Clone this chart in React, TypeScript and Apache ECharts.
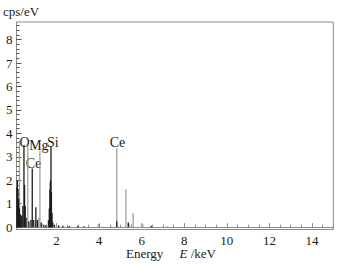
import React, { useEffect, useRef } from "react";
import * as echarts from "echarts";

// Spectrum lines drawn in dark grey (energy keV, counts cps/eV)
const darkEnergies = [0.13, 0.16, 0.19, 0.22, 0.26, 0.3, 0.34, 0.38, 0.42, 0.47, 0.5, 0.53, 0.57, 0.7, 0.8, 0.86, 0.93, 1.03, 1.1, 1.28, 1.4, 1.5, 1.62, 1.66, 1.69, 1.71, 1.72, 1.74, 1.76, 1.79, 1.83, 1.9, 2.1, 2.3, 2.6, 3.0, 3.3, 4.83, 5.37, 6.45];
const darkValues = [1.7, 2.0, 1.6, 1.2, 0.8, 0.55, 0.45, 0.5, 0.9, 3.5, 1.8, 0.9, 0.4, 0.25, 0.3, 2.5, 0.3, 0.85, 0.3, 0.2, 0.1, 0.08, 0.3, 0.8, 1.6, 1.9, 2.0, 3.45, 1.5, 0.6, 0.2, 0.1, 0.08, 0.06, 0.05, 0.05, 0.04, 0.25, 0.2, 0.06];

// Spectrum lines drawn in light grey
const greyEnergies = [0.26, 0.65, 1.16, 1.22, 1.32, 3.96, 4.55, 4.83, 5.26, 5.4, 5.6, 6.0, 6.06, 7.2];
const greyValues = [3.7, 3.45, 0.4, 3.25, 0.15, 0.13, 0.05, 3.37, 1.62, 0.15, 0.6, 0.18, 0.12, 0.04];

// Element annotations
const peakLabelNames = ["O", "Mg", "Si", "Ce", "Ce"];
const peakLabelEnergies = [0.5, 1.17, 1.83, 0.92, 4.86];
const peakLabelValues = [3.61, 3.5, 3.63, 2.7, 3.61];

// Axis tick labels
const xTickLabels = [2, 4, 6, 8, 10, 12, 14];
const yTickLabels = [0, 1, 2, 3, 4, 5, 6, 7, 8];

const FONT = '"Liberation Serif", "Times New Roman", serif';
const AXIS_COLOR = "#8a8a8a";
const TEXT_COLOR = "#1a1a1a";

export default function App() {
  const ref = useRef<HTMLDivElement>(null);

  useEffect(() => {
    if (!ref.current) return;
    const chart = echarts.init(ref.current, undefined, { renderer: "svg" });

    const xMinor: number[] = [];
    for (let i = 1; i <= 30; i++) xMinor.push(i * 0.5);
    const yMinor: number[] = [];
    for (let i = 0; i <= 43; i++) yMinor.push(Math.round(i * 2) / 10);

    const xMin = 0.12;
    const xMax = 15;
    const yMin = -0.1;
    const yMax = 8.75;

    chart.setOption({
      animation: false,
      backgroundColor: "#ffffff",
      grid: {
        left: 16.5,
        right: 10.7,
        top: 22,
        bottom: 35.5,
        show: true,
        borderColor: AXIS_COLOR,
        borderWidth: 1,
        backgroundColor: "transparent",
      },
      xAxis: [
        {
          type: "value",
          min: xMin,
          max: xMax,
          position: "bottom",
          axisLine: { show: true, lineStyle: { color: AXIS_COLOR, width: 1 } },
          axisTick: {
            show: true,
            inside: true,
            length: 4,
            customValues: xTickLabels,
            lineStyle: { color: AXIS_COLOR },
          },
          axisLabel: {
            show: true,
            customValues: xTickLabels,
            margin: 4,
            fontFamily: FONT,
            fontSize: 13,
            color: TEXT_COLOR,
          },
          splitLine: { show: false },
        },
        {
          type: "value",
          min: xMin,
          max: xMax,
          position: "bottom",
          axisLine: { show: false },
          axisTick: {
            show: true,
            inside: true,
            length: 2.5,
            customValues: xMinor,
            lineStyle: { color: AXIS_COLOR },
          },
          axisLabel: { show: false },
          splitLine: { show: false },
        },
      ],
      yAxis: [
        {
          type: "value",
          min: yMin,
          max: yMax,
          position: "left",
          axisLine: { show: true, lineStyle: { color: AXIS_COLOR, width: 1 } },
          axisTick: {
            show: true,
            inside: true,
            length: 5,
            customValues: yTickLabels,
            lineStyle: { color: "#555" },
          },
          axisLabel: {
            show: true,
            customValues: yTickLabels,
            margin: 4,
            fontFamily: FONT,
            fontSize: 13,
            color: TEXT_COLOR,
          },
          splitLine: { show: false },
        },
        {
          type: "value",
          min: yMin,
          max: yMax,
          position: "left",
          axisLine: { show: false },
          axisTick: {
            show: true,
            inside: true,
            length: 3,
            customValues: yMinor,
            lineStyle: { color: "#555" },
          },
          axisLabel: { show: false },
          splitLine: { show: false },
        },
      ],
      series: [
        {
          type: "bar",
          xAxisIndex: 0,
          yAxisIndex: 0,
          barWidth: 1.3,
          barGap: "-100%",
          itemStyle: { color: "#a0a0a0" },
          data: greyEnergies.map((e, i) => [e, greyValues[i]]),
        },
        {
          type: "bar",
          xAxisIndex: 0,
          yAxisIndex: 0,
          barWidth: 1.3,
          barGap: "-100%",
          itemStyle: { color: "#1c1c1c" },
          data: darkEnergies.map((e, i) => [e, darkValues[i]]),
        },
      ],
      graphic: [
        {
          type: "text",
          left: 3,
          top: 5,
          style: {
            text: "cps/eV",
            font: `13px ${FONT}`,
            fill: TEXT_COLOR,
          },
        },
        {
          type: "text",
          left: 126,
          top: 247,
          style: {
            text: "{n|Energy}     {i|E} {n|/keV}",
            rich: {
              n: { fontFamily: FONT, fontSize: 13, fill: TEXT_COLOR },
              i: { fontFamily: FONT, fontSize: 13, fontStyle: "italic", fill: TEXT_COLOR },
            },
            font: `13px ${FONT}`,
            fill: TEXT_COLOR,
          },
        },
      ],
    });

    // Element labels placed through the chart's own coordinate conversion
    const labelElements = peakLabelNames.map((n, i) => {
      const p = chart.convertToPixel({ xAxisIndex: 0, yAxisIndex: 0 }, [
        peakLabelEnergies[i],
        peakLabelValues[i],
      ]) as number[];
      return {
        type: "text",
        x: p[0],
        y: p[1],
        style: {
          text: n,
          font: `14px ${FONT}`,
          fill: TEXT_COLOR,
          align: "center",
          verticalAlign: "middle",
        },
      };
    });
    chart.setOption({
      graphic: [
        {
          type: "text",
          left: 3,
          top: 5,
          style: { text: "cps/eV", font: `13px ${FONT}`, fill: TEXT_COLOR },
        },
        {
          type: "text",
          left: 126,
          top: 247,
          style: {
            text: "{n|Energy}     {i|E} {n|/keV}",
            rich: {
              n: { fontFamily: FONT, fontSize: 13, fill: TEXT_COLOR },
              i: { fontFamily: FONT, fontSize: 13, fontStyle: "italic", fill: TEXT_COLOR },
            },
            font: `13px ${FONT}`,
            fill: TEXT_COLOR,
          },
        },
        ...labelElements,
      ],
    });

    return () => {
      chart.dispose();
    };
  }, []);

  return (
    <div
      ref={ref}
      style={{ position: "fixed", left: 0, top: 0, width: 344, height: 265 }}
    />
  );
}
